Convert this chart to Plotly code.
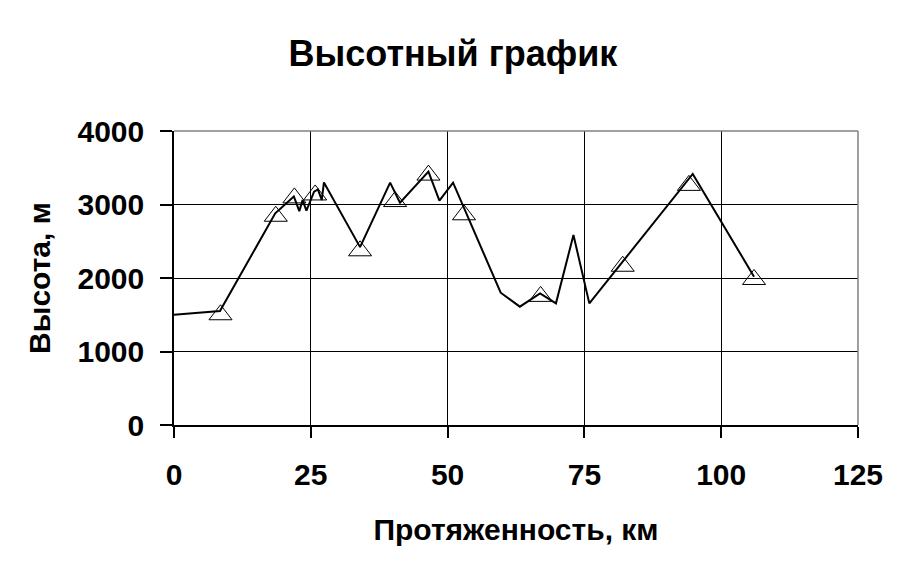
import plotly.graph_objects as go

# Profile line (distance km, altitude m)
line_km = [0, 8.4, 18.5, 21.9, 22.9, 23.5, 24.2, 25.6, 26.3, 27.0, 27.4, 34.0,
           39.5, 41.3, 46.5, 48.5, 51.0, 59.7, 63.2, 66.9, 69.8, 73.0, 75.9,
           94.8, 106.0]
line_m = [1500, 1550, 2880, 3110, 2910, 3060, 2916, 3175, 3206, 3061, 3300, 2420,
          3297, 3025, 3447, 3052, 3297, 1800, 1610, 1790, 1655, 2585, 1655,
          3415, 2018]

# Triangle-marked points
pts_km = [8.5, 18.6, 22.0, 25.8, 34.0, 40.4, 46.5, 53.0, 67.0, 82.0, 94.1, 106.0]
pts_m = [1500, 2840, 3090, 3130, 2370, 3040, 3400, 2860, 1750, 2160, 3260, 1980]

x_ticks = [0, 25, 50, 75, 100, 125]
y_ticks = [0, 1000, 2000, 3000, 4000]

title_text = "Высотный график"
x_title = "Протяженность, км"
y_title = "Высота, м"

FONT = "Liberation Sans, Arial, sans-serif"

fig = go.Figure()
fig.add_trace(go.Scatter(x=line_km, y=line_m, mode="lines",
                         line=dict(color="black", width=2), showlegend=False))
fig.add_trace(go.Scatter(x=pts_km, y=pts_m, mode="markers",
                         marker=dict(symbol="triangle-up-open", size=20,
                                     color="black", line=dict(width=1, color="black")),
                         showlegend=False))

fig.update_layout(
    width=905, height=571,
    margin=dict(l=166, r=55, t=123, b=154),
    paper_bgcolor="white", plot_bgcolor="white",
    font=dict(family=FONT, size=30, color="black", weight="bold"),
    title=dict(text=title_text, x=(453 - 8) / 905, xanchor="center",
               y=1 - 45 / 571, yanchor="middle",
               font=dict(family=FONT, size=36, color="black", weight="bold")),
    shapes=[
        dict(type="line", xref="paper", yref="paper", x0=0, x1=1, y0=1, y1=1,
             line=dict(color="#808080", width=1.5), layer="above"),
        dict(type="line", xref="paper", yref="paper", x0=1, x1=1, y0=0, y1=1,
             line=dict(color="#808080", width=1.5), layer="above"),
    ],
)
fig.update_xaxes(range=[0, 125], tickvals=x_ticks, ticktext=[str(v) for v in x_ticks],
                 showgrid=True, gridcolor="black", gridwidth=1,
                 showline=True, linecolor="black", linewidth=1.5,
                 ticks="outside", ticklen=11, tickcolor="black", tickwidth=1.5,
                 zeroline=False, ticklabelstandoff=11,
                 title=dict(text=x_title, standoff=29,
                            font=dict(family=FONT, size=30, weight="bold")),
                 tickfont=dict(family=FONT, size=30, weight="bold"))
fig.update_yaxes(range=[0, 4000], tickvals=y_ticks, ticktext=[str(v) for v in y_ticks],
                 showgrid=True, gridcolor="black", gridwidth=1,
                 showline=True, linecolor="black", linewidth=1.5,
                 ticks="outside", ticklen=12, tickcolor="black", tickwidth=1.5,
                 zeroline=False, ticklabelstandoff=10,
                 title=dict(text=y_title, standoff=18,
                            font=dict(family=FONT, size=30, weight="bold")),
                 tickfont=dict(family=FONT, size=30, weight="bold"))

fig.write_html("out.html")
